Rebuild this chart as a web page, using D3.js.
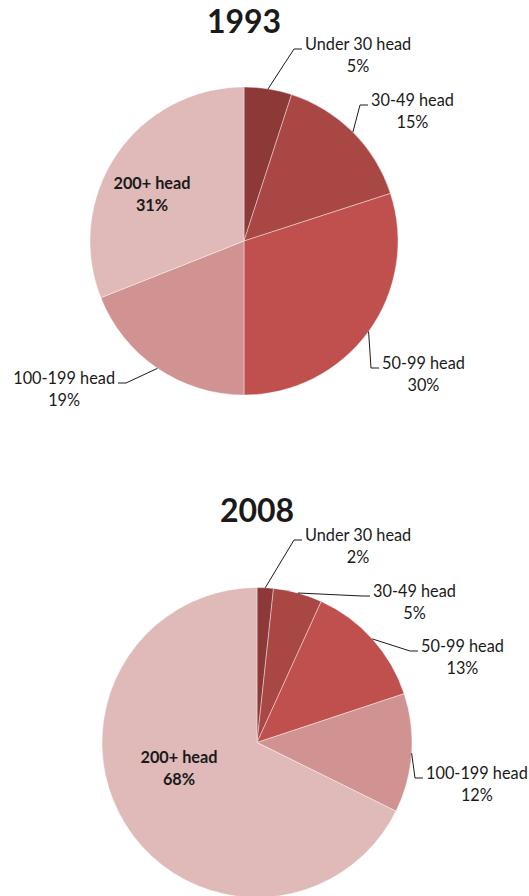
<!DOCTYPE html>
<html><head><meta charset="utf-8">
<script src="https://cdn.jsdelivr.net/npm/d3@7"></script>
<style>
html,body{margin:0;padding:0;background:#fff;}
svg{display:block;}
text{font-family:Lato,"Open Sans",sans-serif;fill:#1a1a1a;}
</style></head>
<body>
<svg id="chart" width="529" height="896"></svg>
<script>
// ---- data ----
const categories = ["Under 30 head", "30-49 head", "50-99 head", "100-199 head", "200+ head"];
const years = ["1993", "2008"];
const values1993 = [5, 15, 30, 19, 31];
const values2008 = [1.7, 5.1, 13.1, 12.4, 67.7];
const colors = ["#8d3937", "#a94745", "#c0504d", "#d19392", "#e0bab9"];

// ---- layout (not data) ----
const charts = [
  {year: years[0], values: values1993, cx: 244, cy: 241, r: 154, titleY: 33,
   labels: [
     {side: "r", x: 305, y: 50},
     {side: "r", x: 371, y: 106},
     {side: "r", x: 382, y: 369},
     {side: "l", x: 115, y: 384},
     {side: "in", x: 152, y: 189}
   ]},
  {year: years[1], values: values2008, cx: 257, cy: 742.5, r: 155, titleY: 522,
   labels: [
     {side: "r", x: 305, y: 541},
     {side: "r", x: 373, y: 597},
     {side: "r", x: 421, y: 652},
     {side: "r", x: 426, y: 779},
     {side: "in", x: 179, y: 763}
   ]}
];

const svg = d3.select("#chart");
const pie = d3.pie().sort(null).value(d => d);
const color = d3.scaleOrdinal().domain(categories).range(colors);

charts.forEach(c => {
  const g = svg.append("g").attr("transform", `translate(${c.cx},${c.cy})`);
  const arcs = pie(c.values);
  const arc = d3.arc().innerRadius(0).outerRadius(c.r);

  g.selectAll("path.slice").data(arcs).join("path")
    .attr("class", "slice")
    .attr("d", arc)
    .attr("fill", (d, i) => color(categories[i]))
    .attr("stroke", "#ffffff").attr("stroke-opacity", 0.5).attr("stroke-width", 0.8);

  svg.append("text")
    .attr("x", c.cx).attr("y", c.titleY)
    .attr("text-anchor", "middle")
    .style("font-size", "32px").style("font-weight", "bold")
    .text(c.year);

  arcs.forEach((d, i) => {
    const L = c.labels[i];
    const pct = Math.round(c.values[i]) + "%";
    const bold = L.side === "in";
    const t = svg.append("text")
      .style("font-size", "16.3px")
      .style("font-weight", bold ? "bold" : "normal");
    const t1 = t.append("tspan").text(categories[i]);
    const w = t1.node().getComputedTextLength();
    let cxText;
    if (L.side === "r") cxText = L.x + w / 2;
    else if (L.side === "l") cxText = L.x - w / 2;
    else cxText = L.x;
    t.attr("text-anchor", "middle");
    t1.attr("x", cxText).attr("y", L.y);
    t.append("tspan").attr("x", cxText).attr("y", L.y + 21.5).text(pct);

    if (L.side !== "in") {
      const mid = (d.startAngle + d.endAngle) / 2;
      const sx = c.cx + c.r * Math.sin(mid);
      const sy = c.cy - c.r * Math.cos(mid);
      const ly = L.y - 1;
      const dir = L.side === "r" ? 1 : -1;
      const ex = L.x - dir * 3;
      const kx = ex - dir * 8;
      svg.append("path")
        .attr("d", d3.line()([[sx, sy], [kx, ly], [ex, ly]]))
        .attr("fill", "none").attr("stroke", "#1a1a1a").attr("stroke-width", 1);
    }
  });
});
</script>
</body></html>
